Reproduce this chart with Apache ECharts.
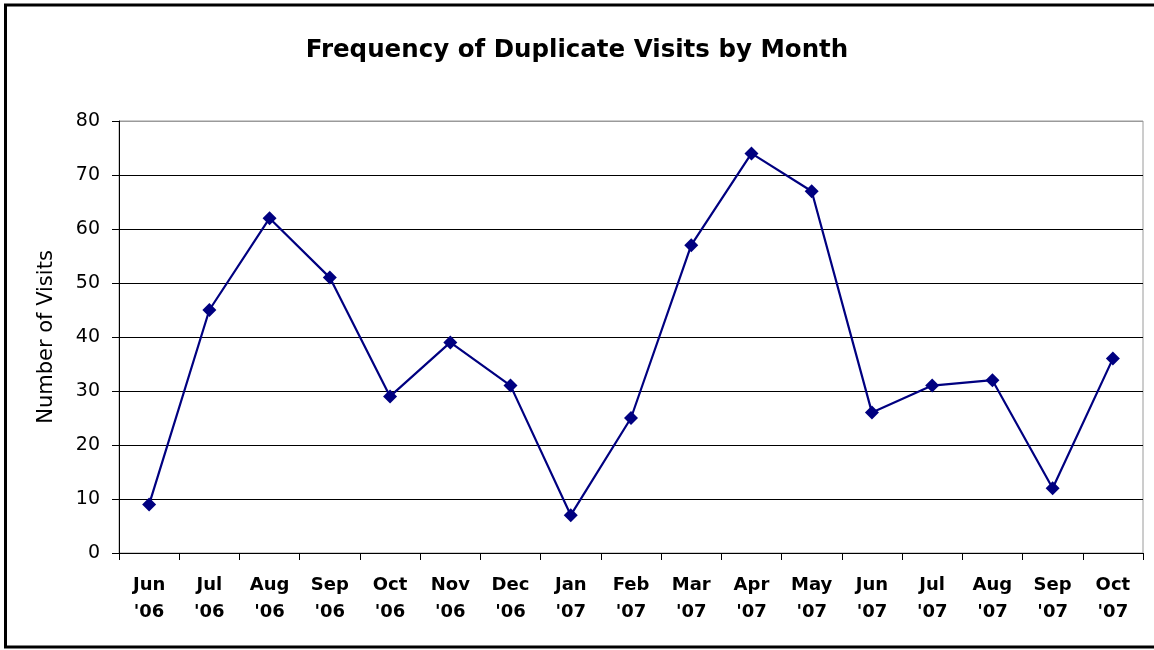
<!DOCTYPE html>
<html>
<head>
<meta charset="utf-8">
<script src="https://cdn.jsdelivr.net/npm/echarts@6/dist/echarts.min.js"></script>
<style>
  html, body { margin: 0; padding: 0; background: #fff; }
  #chart { width: 1154px; height: 650px; }
</style>
</head>
<body>
<div id="chart"></div>
<script>
// Monthly counts of duplicate visits, June 2006 through October 2007
const months = ['Jun\n\'06', 'Jul\n\'06', 'Aug\n\'06', 'Sep\n\'06', 'Oct\n\'06', 'Nov\n\'06', 'Dec\n\'06',
                'Jan\n\'07', 'Feb\n\'07', 'Mar\n\'07', 'Apr\n\'07', 'May\n\'07', 'Jun\n\'07', 'Jul\n\'07',
                'Aug\n\'07', 'Sep\n\'07', 'Oct\n\'07'];
const visits = [9, 45, 62, 51, 29, 39, 31, 7, 25, 57, 74, 67, 26, 31, 32, 12, 36];
const yTicks = { min: 0, max: 80, interval: 10 };

const FONT = '"DejaVu Sans", "Liberation Sans", Arial, sans-serif';
// horizontal grid lines: black, with the top edge in grey
const gridColors = ['#000', '#000', '#000', '#000', '#000', '#000', '#000', '#000', '#9a9a9a'];

const chart = echarts.init(document.getElementById('chart'), null, { renderer: 'canvas' });
chart.setOption({
  animation: false,
  backgroundColor: '#fff',
  title: {
    text: 'Frequency of Duplicate Visits by Month',
    left: 'center',
    top: 33,
    textStyle: { fontFamily: FONT, fontSize: 24.5, fontWeight: 'bold', color: '#000' }
  },
  graphic: [{
    type: 'rect',
    shape: { x: 5.5, y: 5, width: 1160, height: 642 },
    style: { fill: 'none', stroke: '#000', lineWidth: 3 },
    silent: true
  }],
  grid: {
    left: 119, right: 11, top: 121, bottom: 97,
    show: true, borderColor: '#9a9a9a', borderWidth: 1, backgroundColor: 'transparent'
  },
  xAxis: {
    type: 'category',
    data: months,
    boundaryGap: true,
    axisLine: { lineStyle: { color: '#000', width: 1 } },
    axisTick: { show: true, length: 7, inside: false, alignWithLabel: false, lineStyle: { color: '#000' } },
    axisLabel: {
      interval: 0, margin: 19, lineHeight: 27,
      fontFamily: FONT, fontSize: 18, fontWeight: 'bold', color: '#000'
    },
    splitLine: { show: false }
  },
  yAxis: {
    type: 'value',
    min: yTicks.min, max: yTicks.max, interval: yTicks.interval,
    name: 'Number of Visits',
    nameLocation: 'middle',
    nameGap: 62,
    nameTextStyle: { fontFamily: FONT, fontSize: 21, color: '#000' },
    axisLine: { show: true, lineStyle: { color: '#000', width: 1 } },
    axisTick: { show: true, length: 7, lineStyle: { color: '#000' } },
    axisLabel: { margin: 19, fontFamily: FONT, fontSize: 19, color: '#000' },
    splitLine: { show: true, lineStyle: { color: gridColors, width: 1 } }
  },
  series: [{
    type: 'line',
    data: visits,
    symbol: 'diamond',
    symbolSize: 14,
    lineStyle: { color: '#000080', width: 2.2 },
    itemStyle: { color: '#000080' },
    z: 5
  }]
});
</script>
</body>
</html>
